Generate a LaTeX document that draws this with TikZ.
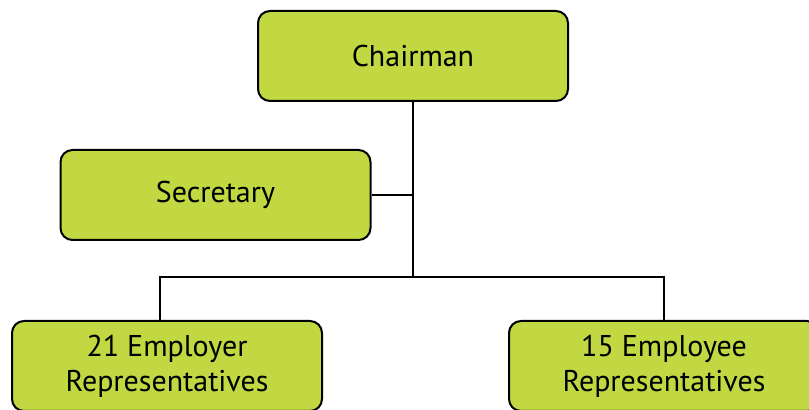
\documentclass[tikz,border=0pt]{standalone}
\usepackage{fontspec}
\setmainfont{PT Sans}
\usetikzlibrary{positioning}
\definecolor{mlime}{RGB}{194, 216, 66}

\begin{document}
\begin{tikzpicture}[x=0.5pt, y=-0.5pt,
    box/.style={draw=black, line width=1pt, fill=mlime, rounded corners=6pt,
      minimum width=155pt, minimum height=45pt, align=center,
      font=\fontsize{15}{17.5}\selectfont},
    link/.style={draw=black, line width=0.6pt}]
    \useasboundingbox (0, 0) rectangle (809, 410);

    \node [box] (chair) at (413, 56) {Chairman};
    \node [box] (sec) at (215.5, 195) {Secretary};
    \node [box] (emplr) at (167, 366) {21 Employer\\Representatives};
    \node [box] (emplee) at (664, 366) {15 Employee\\Representatives};

    \coordinate (split) at (413, 277);

    \draw [link] (chair.south) -- (split);
    \draw [link] (sec.east) -- (sec.east -| chair.south);
    \draw [link] ([xshift=-3.5pt]emplr.north) |- (split) -| (emplee.north);
\end{tikzpicture}
\end{document}
